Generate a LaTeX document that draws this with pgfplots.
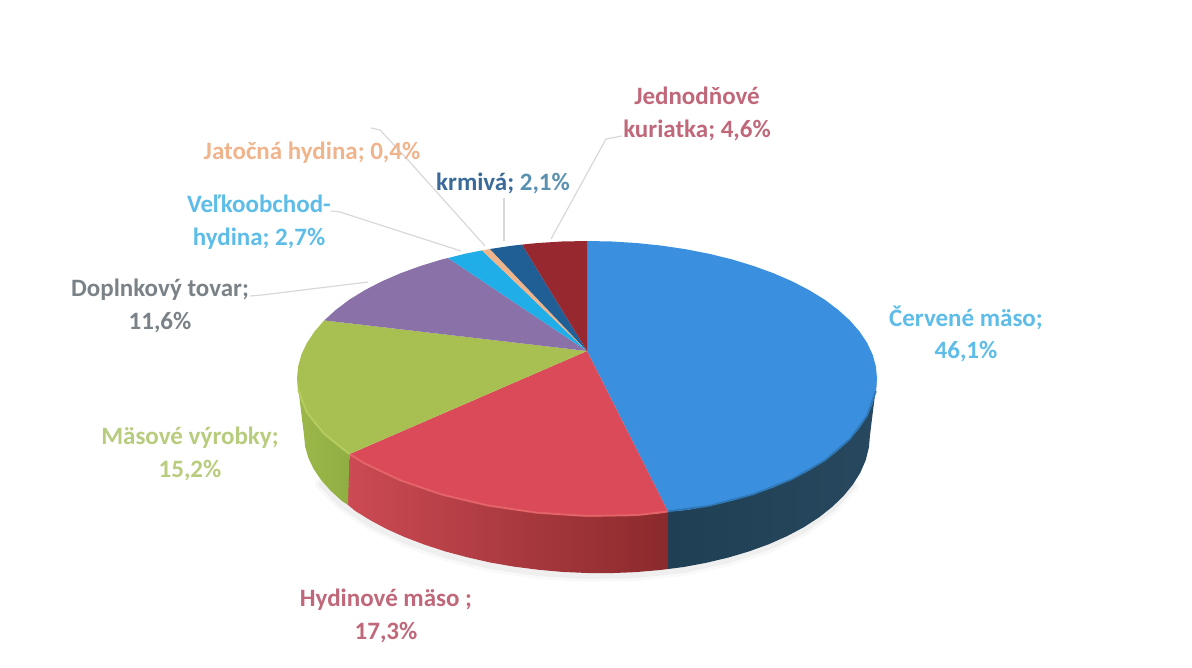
\documentclass[border=0pt]{standalone}
\usepackage{pgfplots}
\pgfplotsset{compat=1.18}
\usepackage{fontspec}
\setmainfont{Carlito}
\definecolor{cBlue}{HTML}{3A90DE}
\definecolor{cRed}{HTML}{DA4A58}
\definecolor{cGreen}{HTML}{A8C052}
\definecolor{cPurple}{HTML}{8A72A8}
\definecolor{cCyan}{HTML}{1FAEE8}
\definecolor{cOrange}{HTML}{F0B48C}
\definecolor{cDkBlue}{HTML}{1F5F96}
\definecolor{cDkRed}{HTML}{98282F}
\definecolor{lLine}{HTML}{D8D8D8}
\definecolor{sBlueL}{HTML}{27485E}
\definecolor{sBlueR}{HTML}{1F3F54}
\definecolor{sRedL}{HTML}{CC4A54}
\definecolor{sRedR}{HTML}{8A2A2C}
\definecolor{sGreenL}{HTML}{9DB84A}
\definecolor{sGreenR}{HTML}{8FAE42}
\definecolor{hRed}{HTML}{E8686C}
\definecolor{hGreen}{HTML}{B8CE62}
\definecolor{hBlue}{HTML}{2A6EA8}
\definecolor{tBlue}{HTML}{5DBDE8}
\definecolor{tRed}{HTML}{C0687A}
\definecolor{tGreen}{HTML}{B8CC7E}
\definecolor{tGray}{HTML}{7A8288}
\definecolor{tOrange}{HTML}{F0B48C}
\definecolor{tKrm}{HTML}{3A6A9A}
\definecolor{tKrmB}{HTML}{5A90B0}
\newcommand{\lab}{\fontsize{25}{32.5}\selectfont\bfseries}
\begin{document}
\begin{tikzpicture}
\useasboundingbox (0,0) rectangle (1192pt,667pt);
\begin{axis}[
  at={(0,0)},anchor=south west,
  scale only axis,width=1192pt,height=667pt,
  xmin=0,xmax=1192,ymin=0,ymax=667,y dir=reverse,
  axis lines=none,clip=false,
]
% Soft shadow under the pie
\addplot[draw=gray,line width=12pt,opacity=.05,line cap=round] coordinates {(852.9,486)(832.1,509)(803.8,530)(768.9,547)(728.5,560)(683.8,570)(636.1,575)(587,576)(537.9,573)(490.2,566)(445.5,555)(405.1,541)(370.2,524)(341.9,505)(321.1,484)};
\addplot[draw=gray,line width=6pt,opacity=.08,line cap=round] coordinates {(852.9,486)(832.1,509)(803.8,530)(768.9,547)(728.5,560)(683.8,570)(636.1,575)(587,576)(537.9,573)(490.2,566)(445.5,555)(405.1,541)(370.2,524)(341.9,505)(321.1,484)};
% Sides: blue, red, green
\addplot[draw=none,left color=sBlueR,right color=sBlueL] coordinates {(877,378.5)(875.9,391.1)(872.6,403.6)(867.1,415.9)(859.5,427.8)(849.8,439.3)(838.1,450.3)(824.6,460.7)(809.1,470.4)(792.1,479.2)(773.4,487.3)(753.3,494.4)(732,500.6)(709.6,505.8)(686.2,510)(668,511.5)(668,569)(683.8,567)(706.6,562.7)(728.5,557.5)(749.3,551.3)(768.9,544.2)(787.1,536.1)(803.8,527.2)(818.8,517.5)(832.1,507)(843.5,496)(852.9,484.5)(860.4,472.5)(865.7,460.2)(868.9,447.6)(870,435)} --cycle;
\addplot[draw=none,left color=sRedL,right color=sRedR] coordinates {(668,511.5)(662.1,513)(637.3,515.1)(612.3,516.1)(587,516)(561.7,514.9)(536.7,512.7)(511.9,509.6)(487.8,505.5)(464.4,500.4)(442,494.6)(420.7,487.8)(400.6,480.4)(381.9,472.2)(364.9,463.5)(349.4,454.1)(348,505)(355.2,510.9)(370.2,520.2)(386.9,529.1)(405.1,537.3)(424.7,544.7)(445.5,551.5)(467.4,557.3)(490.2,562.5)(513.8,566.6)(537.9,569.7)(562.3,571.9)(587,573)(611.7,573.1)(636.1,572.1)(660.2,570)(668,569)} --cycle;
\addplot[draw=none,left color=sGreenL,right color=sGreenR] coordinates {(349.4,454.1)(335.9,444.3)(324.2,433.9)(314.5,423.3)(306.9,412.4)(301.4,401.2)(298.1,389.9)(297,378.5)(304,435)(305.1,446.4)(308.3,457.8)(313.6,468.9)(321.1,480)(330.5,490.6)(341.9,501)(348,505)} --cycle;
% Top face wedges
\addplot[draw=none,fill=cBlue] coordinates {(587,351)(587,241)(612.3,241.5)(637.3,243.1)(662.1,245.7)(686.2,249.3)(709.6,253.9)(732,259.4)(753.3,265.9)(773.4,273.2)(792.1,281.3)(809.1,290.1)(824.6,299.6)(838.1,309.8)(849.8,320.4)(859.5,331.5)(867.1,342.9)(872.6,354.6)(875.9,366.5)(877,378.5)(875.9,391.1)(872.6,403.6)(867.1,415.9)(859.5,427.8)(849.8,439.3)(838.1,450.3)(824.6,460.7)(809.1,470.4)(792.1,479.2)(773.4,487.3)(753.3,494.4)(732,500.6)(709.6,505.8)(686.2,510)(668,511.5)} --cycle;
\addplot[draw=none,fill=cRed] coordinates {(587,351)(668,511.5)(662.1,513)(637.3,515.1)(612.3,516.1)(587,516)(561.7,514.9)(536.7,512.7)(511.9,509.6)(487.8,505.5)(464.4,500.4)(442,494.6)(420.7,487.8)(400.6,480.4)(381.9,472.2)(364.9,463.5)(349.4,454.1)} --cycle;
\addplot[draw=none,fill=cGreen] coordinates {(587,351)(349.4,454.1)(335.9,444.3)(324.2,433.9)(314.5,423.3)(306.9,412.4)(301.4,401.2)(298.1,389.9)(297,378.5)(298.1,366.5)(301.4,354.6)(306.9,342.9)(314.5,331.5)(324.2,320.4)} --cycle;
\addplot[draw=none,fill=cPurple] coordinates {(587,351)(324.2,320.4)(335.9,309.8)(349.4,299.6)(364.9,290.1)(381.9,281.3)(400.6,273.2)(420.7,265.9)(442,259.4)(448,258)} --cycle;
\addplot[draw=none,fill=cCyan] coordinates {(587,351)(448,258)(464.4,253.9)(482,250.4)} --cycle;
\addplot[draw=none,fill=cOrange] coordinates {(587,351)(482,250.4)(490,249)} --cycle;
\addplot[draw=none,fill=cDkBlue] coordinates {(587,351)(490,249)(511.9,245.7)(522,244.6)} --cycle;
\addplot[draw=none,fill=cDkRed] coordinates {(587,351)(522,244.6)(536.7,243.1)(561.7,241.5)(587,241)} --cycle;
% Bevel along the rim
\addplot[draw=hRed,line width=2pt,opacity=.8] coordinates {(668,511.5)(637.3,515.1)(587,516)(536.7,512.7)(487.8,505.5)(442,494.6)(400.6,480.4)(364.9,463.5)(349.4,454.1)};
\addplot[draw=hGreen,line width=2pt,opacity=.8] coordinates {(349.4,454.1)(324.2,433.9)(306.9,412.4)(298.1,389.9)};
\addplot[draw=hBlue,line width=2pt,opacity=.7] coordinates {(668,511.5)(709.6,505.8)(753.3,494.4)(792.1,479.2)(824.6,460.7)(849.8,439.3)(867.1,415.9)(875.9,391.1)};
% Leader lines
\addplot[draw=lLine,line width=1.2pt] coordinates {(551,239)(606,139)(622,136)};
\addplot[draw=lLine,line width=1.2pt] coordinates {(504,241)(504,198)};
\addplot[draw=lLine,line width=1.2pt] coordinates {(485,246)(408,160)(380,130)(371,128)};
\addplot[draw=lLine,line width=1.2pt] coordinates {(461,251)(340,212)(331,211)};
\addplot[draw=lLine,line width=1.2pt] coordinates {(368,282)(262,295)(250,296)};
% Labels
\node[align=center,text=tBlue,font=\lab] at (axis cs:966,334) {Červené mäso;\\46,1\%};
\node[align=center,text=tRed,font=\lab] at (axis cs:386,616) {Hydinové mäso ;\\17,3\%};
\node[align=center,text=tGreen,font=\lab] at (axis cs:190,454) {Mäsové výrobky;\\15,2\%};
\node[align=center,text=tGray,font=\lab] at (axis cs:160,306) {Doplnkový tovar;\\11,6\%};
\node[align=center,text=tBlue,font=\lab] at (axis cs:259,222) {Veľkoobchod-\\hydina; 2,7\%};
\node[text=tOrange,font=\lab] at (axis cs:312,153) {Jatočná hydina; 0,4\%};
\node[font=\lab] at (axis cs:503,183) {\textcolor{tKrm}{krmivá;} \textcolor{tKrmB}{2,1\%}};
\node[align=center,text=tRed,font=\lab] at (axis cs:697,114) {Jednodňové\\kuriatka; 4,6\%};
\end{axis}
\end{tikzpicture}
\end{document}
